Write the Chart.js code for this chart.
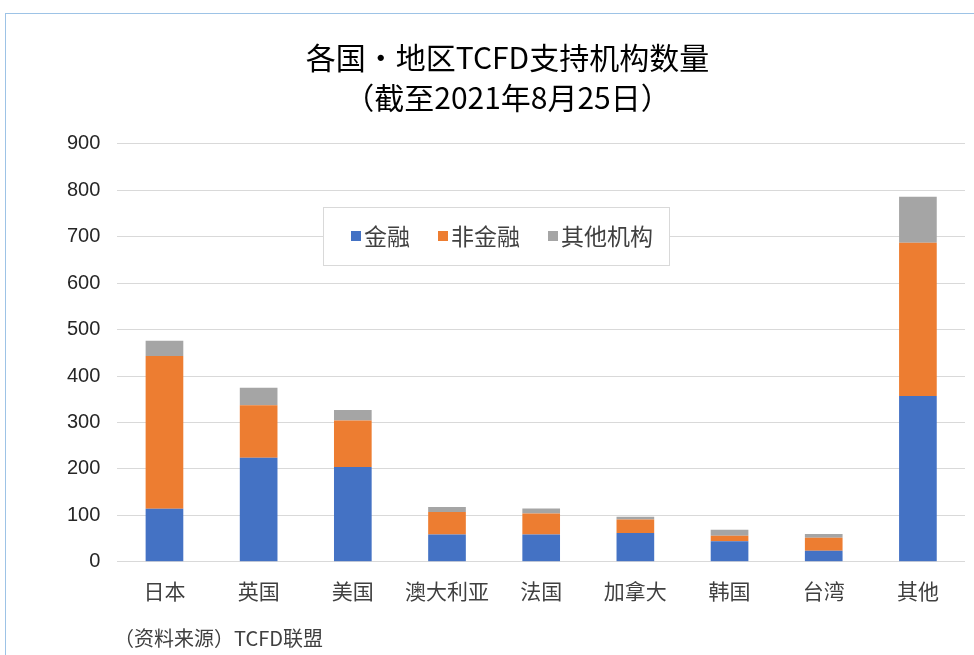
<!DOCTYPE html>
<html>
<head>
<meta charset="utf-8">
<script src="https://cdn.jsdelivr.net/npm/chart.js@4.4.1/dist/chart.umd.min.js"></script>
<style>
  html, body { margin: 0; padding: 0; background: #fff; }
  #frame {
    position: absolute; left: 5px; top: 13px; width: 990px; height: 660px;
    border-left: 1px solid #9dc3e6; border-top: 1px solid #9dc3e6;
  }
  #chart { position: absolute; left: 0; top: 0; }
</style>
</head>
<body>
<div id="frame"></div>
<canvas id="chart" width="974" height="655"></canvas>
<script>
const categories = ["日本", "英国", "美国", "澳大利亚", "法国", "加拿大", "韩国", "台湾", "其他"];
const financial = [114, 224, 204, 59, 59, 62, 44, 24, 357];
const nonFinancial = [329, 113, 100, 48, 45, 29, 12, 28, 330];
const otherOrgs = [33, 38, 23, 11, 11, 6, 13, 8, 99];
const seriesNames = ["金融", "非金融", "其他机构"];
const yTicks = [0, 100, 200, 300, 400, 500, 600, 700, 800, 900];

const titleLines = ["各国・地区TCFD支持机构数量", "（截至2021年8月25日）"];
const sourceNote = "（资料来源）TCFD联盟";

const colors = ["#4472c4", "#ed7d31", "#a5a5a5"];
const cjk = "'Noto Sans CJK SC', 'Noto Sans', sans-serif";
const latin = "'Liberation Sans', Arial, " + cjk;

// legend box inside the plot + source note at the bottom
const boxLegend = {
  id: "boxLegend",
  afterDraw(chart) {
    const ctx = chart.ctx;
    ctx.save();
    const bx = 323, by = 207, bw = 346, bh = 58;
    ctx.fillStyle = "#fff";
    ctx.fillRect(bx, by, bw, bh);
    ctx.strokeStyle = "#d9d9d9";
    ctx.lineWidth = 1;
    ctx.strokeRect(bx + 0.5, by + 0.5, bw, bh);

    ctx.font = "23px " + cjk;
    ctx.textBaseline = "middle";
    let x = 351;
    const cy = by + bh / 2;
    chart.data.datasets.forEach((ds) => {
      ctx.fillStyle = ds.backgroundColor;
      ctx.fillRect(x, cy - 5, 10, 10);
      x += 13;
      ctx.fillStyle = "#404040";
      ctx.fillText(ds.label, x, cy);
      x += ctx.measureText(ds.label).width + 28;
    });

    ctx.font = "20px " + cjk;
    ctx.fillStyle = "#404040";
    ctx.textBaseline = "middle";
    ctx.fillText(sourceNote, 114, 638);
    ctx.restore();
  },
};

new Chart(document.getElementById("chart"), {
  type: "bar",
  data: {
    labels: categories,
    datasets: [
      { label: seriesNames[0], data: financial, backgroundColor: colors[0] },
      { label: seriesNames[1], data: nonFinancial, backgroundColor: colors[1] },
      { label: seriesNames[2], data: otherOrgs, backgroundColor: colors[2] },
    ],
  },
  options: {
    responsive: false,
    animation: false,
    layout: { padding: { left: 50, right: 9, top: 0, bottom: 42 } },
    datasets: {
      bar: { categoryPercentage: 1, barPercentage: 0.4, borderWidth: 0 },
    },
    plugins: {
      legend: { display: false },
      tooltip: { enabled: false },
      title: {
        display: true,
        text: titleLines,
        color: "#000",
        font: { family: cjk, size: 30, weight: "normal", lineHeight: 1.33 },
        padding: { top: 38, bottom: 26 },
      },
    },
    scales: {
      x: {
        stacked: true,
        grid: { display: false },
        border: { display: false },
        ticks: { color: "#404040", font: { family: cjk, size: 21 }, padding: 9 },
      },
      y: {
        stacked: true,
        min: 0,
        max: 900,
        afterBuildTicks: (axis) => {
          axis.ticks = yTicks.map((v) => ({ value: v }));
        },
        grid: { color: "#d9d9d9", lineWidth: 1, drawTicks: false },
        border: { display: false },
        ticks: { color: "#262626", font: { family: latin, size: 20 }, padding: 17 },
      },
    },
  },
  plugins: [boxLegend],
});
</script>
</body>
</html>
